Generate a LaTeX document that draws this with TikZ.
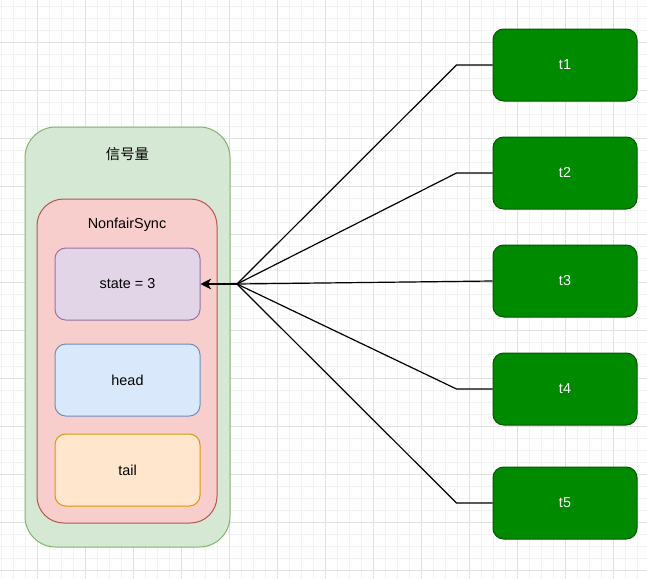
\documentclass[tikz,border=0pt]{standalone}
\usepackage{fontspec}
\setmainfont{Liberation Sans}
\newfontfamily\cjk{Noto Sans CJK SC}
\usetikzlibrary{positioning, arrows.meta}

\definecolor{grnfill}{HTML}{D5E8D4}\definecolor{grnline}{HTML}{82B366}
\definecolor{redfill}{HTML}{F8CECC}\definecolor{redline}{HTML}{B85450}
\definecolor{purfill}{HTML}{E1D5E7}\definecolor{purline}{HTML}{9673A6}
\definecolor{bluefill}{HTML}{DAE8FC}\definecolor{blueline}{HTML}{6C8EBF}
\definecolor{orgfill}{HTML}{FFE6CC}\definecolor{orgline}{HTML}{D79B00}
\definecolor{thrfill}{HTML}{008A00}\definecolor{thrline}{HTML}{005700}

\begin{document}
\begin{tikzpicture}[
    x=0.75pt, y=-0.75pt,
    font=\fontsize{10.8}{13}\selectfont,
    container/.style={
        rectangle, draw=#1line, fill=#1fill, line width=0.75pt
    },
    field/.style={
        rectangle, draw=#1line, fill=#1fill, line width=0.75pt,
        rounded corners=8pt, minimum width=108.75pt, minimum height=54pt,
        align=center, inner sep=0pt
    },
    thread/.style={
        rectangle, draw=thrline, fill=thrfill, line width=0.75pt,
        rounded corners=8pt, minimum width=108pt, minimum height=54pt,
        text=white, inner sep=0pt
    },
    title/.style={inner sep=0pt, anchor=center},
    wire/.style={line width=0.9pt},
    arr/.style={-{Stealth[length=8pt, width=8pt, inset=2.5pt]}, line width=1.3pt}
]
\useasboundingbox (0,0) rectangle (647,579);

% ---------------- Grid ----------------
\foreach \gx in {1,13,...,647} \draw[black!5, line width=0.5pt] (\gx,0) -- (\gx,579);
\foreach \gy in {6,18,...,579} \draw[black!5, line width=0.5pt] (0,\gy) -- (647,\gy);
\foreach \gx in {37,85,...,647} \draw[black!12, line width=0.6pt] (\gx,0) -- (\gx,579);
\foreach \gy in {42,90,...,579} \draw[black!12, line width=0.6pt] (0,\gy) -- (647,\gy);

% ---------------- Semaphore ----------------
\node[container=grn, rounded corners=23pt, minimum width=153.75pt, minimum height=315pt] (sema) at (127.5,337) {};
\node[title] (sema_lbl) at (127.5,154) {\cjk 信号量};

\node[container=red, rounded corners=20pt, minimum width=135pt, minimum height=243pt] (sync) at (127,361) {};
\node[title] (sync_lbl) at (127,225) {NonfairSync};

\node[field=pur] (state) at (127.5,284) {state = 3};
\node[field=blue] (head) at (127.5,380) {head};
\node[field=org] (tail) at (127.5,470) {tail};

% ---------------- Threads ----------------
\node[thread] (t1) at (565,65) {t1};
\node[thread] (t2) at (565,173) {t2};
\node[thread] (t3) at (565,281) {t3};
\node[thread] (t4) at (565,389) {t4};
\node[thread] (t5) at (565,503) {t5};

\coordinate (hub) at (237,284);

% ---------------- Edges ----------------
\draw[wire] (t1.west) -- ++(-36,0) -- (hub);
\draw[wire] (t2.west) -- ++(-36,0) -- (hub);
\draw[wire] (t3.west) -- (hub);
\draw[wire] (t4.west) -- ++(-36,0) -- (hub);
\draw[wire] (t5.west) -- ++(-36,0) -- (hub);
\draw[arr] (hub) -- (state.east);

\end{tikzpicture}
\end{document}
